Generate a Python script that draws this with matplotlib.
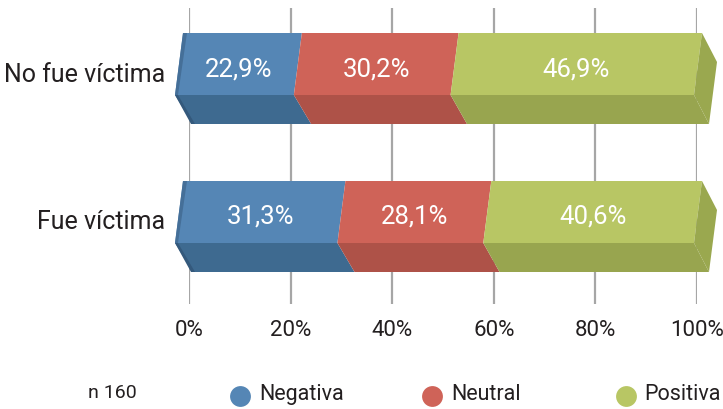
import matplotlib
matplotlib.use("Agg")
import matplotlib.pyplot as plt
from matplotlib.patches import Polygon
from matplotlib.lines import Line2D

# ---- data ----
categories = ["Fue víctima", "No fue víctima"]
series_names = ["Negativa", "Neutral", "Positiva"]
negativa = [31.3, 22.9]
neutral = [28.1, 30.2]
positiva = [40.6, 46.9]
xticks = [0, 20, 40, 60, 80, 100]
xtick_labels = ["0%", "20%", "40%", "60%", "80%", "100%"]
note = "n 160"

FONT = ["Roboto", "DejaVu Sans"]
plt.rcParams["font.family"] = FONT

top_cols = ["#5586B5", "#CF6358", "#B8C664"]
bot_cols = ["#3E6A90", "#AE5248", "#98A54F"]
side_green = "#9AA84F"
text_col = "#231F20"

W, H = 723, 410
fig = plt.figure(figsize=(W / 100, H / 100), dpi=100)
ax = fig.add_axes([189 / W, 1 - 305 / H, (697 - 189) / W, (305 - 9) / H])

sx = (697 - 189) / 100.0   # px per percent
sy = 148.0                 # px per category unit
ax.set_xlim(0, 100)
ax.set_ylim(-(305 - 244) / sy, 1 + (96 - 9) / sy)

# perspective offsets (px) at v=0 and v=100 for each level
offs = {"top": (-6, 5), "mid": (-14, -3), "bot": (4, 12)}
dy = {"top": 62 / sy, "mid": 0.0, "bot": -29 / sy}


def X(v, lvl):
    a, b = offs[lvl]
    return v + (a + (b - a) * v / 100.0) / sx


def poly(pts, color, z):
    ax.add_patch(Polygon(pts, closed=True, fc=color, ec="none", zorder=z, clip_on=False))


series = [negativa, neutral, positiva]
for i, cat in enumerate(categories):
    yc = i
    yt, ym, yb = yc + dy["top"], yc, yc + dy["bot"]
    left = 0.0
    for k, vals in enumerate(series):
        v0, v1 = left, left + vals[i]
        poly([(X(v0, "top"), yt), (X(v1, "top"), yt), (X(v1, "mid"), ym), (X(v0, "mid"), ym)], top_cols[k], 3)
        poly([(X(v0, "mid"), ym), (X(v1, "mid"), ym), (X(v1, "bot"), yb), (X(v0, "bot"), yb)], bot_cols[k], 3)
        cx = (X(v0, "top") + X(v1, "top") + X(v0, "mid") + X(v1, "mid")) / 4
        cy = yc + dy["top"] / 2 - 4 / sy
        ax.text(cx, cy, f"{vals[i]:.1f}".replace(".", ",") + "%", ha="center", va="center",
                color="white", fontsize=18.5, zorder=5)
        left = v1
    # left end sliver
    poly([(X(0, "top"), yt), (X(0, "top") + 4 / sx, yt), (X(0, "mid") + 3 / sx, ym), (X(0, "mid"), ym)], "#456F98", 4)
    poly([(X(0, "mid"), ym), (X(0, "mid") + 3 / sx, ym), (X(0, "bot") + 2 / sx, yb), (X(0, "bot") - 2 / sx, yb)], "#34597C", 4)
    # right end face
    poly([(X(100, "top"), yt), (100 + 20 / sx, yc + 33 / sy), (X(100, "bot"), yb), (X(100, "mid"), ym)], side_green, 4)

# grid
ax.set_xticks(xticks)
ax.set_xticklabels(xtick_labels)
ax.grid(axis="x", color="#A6A6A6", lw=1.6, zorder=0)
ax.set_axisbelow(True)
ax.set_yticks([i + dy["top"] / 2 - 7 / sy for i in range(len(categories))])
ax.set_yticklabels(categories)
ax.tick_params(axis="x", length=0, pad=11, labelsize=16, labelcolor=text_col)
ax.tick_params(axis="y", length=0, pad=17, labelsize=18, labelcolor=text_col)
for s in ax.spines.values():
    s.set_visible(False)

# legend
fig.text(88 / W, 1 - 393 / H, note, ha="left", va="center", fontsize=14, color=text_col)
circ_x = [240, 432, 626]
txt_x = [259, 451, 644]
for k, name in enumerate(series_names):
    fig.add_artist(Line2D([circ_x[k] / W], [1 - 397 / H], marker="o", ms=15, color=top_cols[k],
                          mec="none", transform=fig.transFigure))
    fig.text(txt_x[k] / W, 1 - 395 / H, name, ha="left", va="center", fontsize=15.5, color=text_col)

fig.savefig("out.png", dpi=100)
